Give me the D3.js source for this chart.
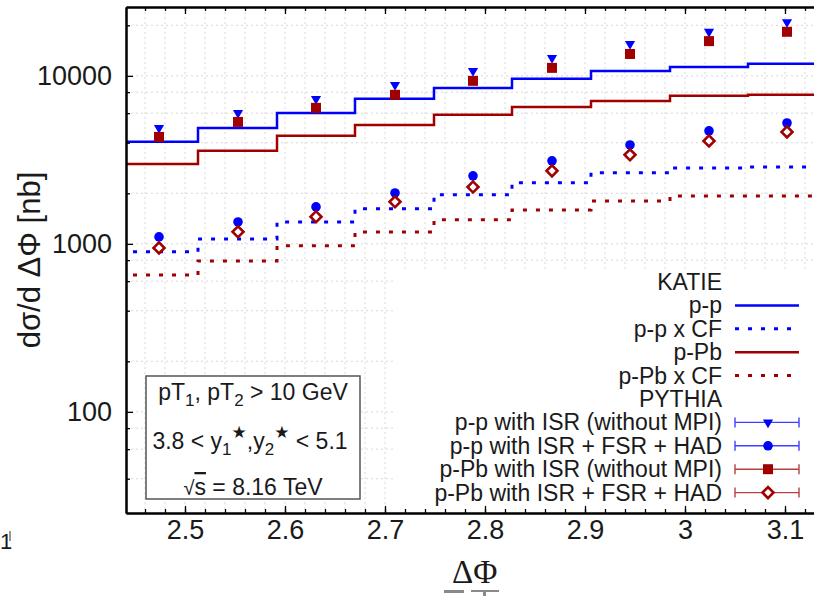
<html>
<head>
<meta charset="utf-8">
<script src="https://d3js.org/d3.v7.min.js"></script>
<style>
body { margin: 0; background: #fff; }
text { font-family: "Liberation Sans", Arial, sans-serif; fill: #1a1a1a; }
</style>
</head>
<body>
<div id="chart"></div>
<script>
// bins in delta phi (width pi/40)
const binEdges = [2.435, 2.513, 2.592, 2.670, 2.749, 2.827, 2.906, 2.985, 3.063, 3.142];
const binCenters = [2.474, 2.553, 2.631, 2.710, 2.788, 2.867, 2.945, 3.024, 3.102];

// KATIE histograms [nb]
const katiePP     = [4050, 4900, 6020, 7300, 8480, 9600, 10700, 11300, 11800];
const katiePPcf   = [896, 1070, 1350, 1616, 1960, 2310, 2650, 2830, 2870];
const katiePPb    = [2990, 3580, 4400, 5100, 5860, 6530, 7090, 7610, 7710];
const katiePPbcf  = [653, 792, 973, 1178, 1390, 1593, 1800, 1930, 1930];

// PYTHIA points [nb]
const pythiaPPisr   = [4900, 6020, 7300, 8840, 10700, 12800, 15500, 18300, 20900];
const pythiaPPfull  = [1100, 1350, 1660, 2010, 2540, 3120, 3880, 4710, 5240];
const pythiaPPbisr  = [4330, 5320, 6450, 7710, 9340, 11160, 13500, 16100, 18300];
const pythiaPPbfull = [946, 1180, 1450, 1780, 2180, 2720, 3390, 4100, 4640];

const xTicks = [2.5, 2.6, 2.7, 2.8, 2.9, 3, 3.1];
const yTicks = [100, 1000, 10000];
const yMinor = [40, 60, 80, 200, 400, 600, 800, 2000, 4000, 6000, 8000, 20000];

const legendLabels = ["KATIE", "p-p", "p-p x CF", "p-Pb", "p-Pb x CF", "PYTHIA",
  "p-p with ISR (without MPI)", "p-p with ISR + FSR + HAD",
  "p-Pb with ISR (without MPI)", "p-Pb with ISR + FSR + HAD"];

const w = 814;
const h = 596;
const pLeft = 126, pRight = 826, pTop = 7, pBottom = 513;
const blue = "#0000ff";
const red = "#a00000";

const svg = d3.select("#chart")
  .append("svg")
  .attr("width", w)
  .attr("height", h);

const xscale = d3.scaleLinear().domain([2.441, 3.141]).range([pLeft, pRight]);
const yscale = d3.scaleLog().domain([25, 25700]).range([pBottom, pTop]);

svg.append("clipPath").attr("id", "plotclip")
  .append("rect").attr("x", pLeft).attr("y", pTop)
  .attr("width", pRight - pLeft).attr("height", pBottom - pTop);

// grid
const grid = svg.append("g")
  .attr("stroke", "#d8d8d8")
  .attr("stroke-width", 1)
  .attr("stroke-dasharray", "2,3");
const xGrid = d3.range(2.46, 3.13, 0.02);
grid.selectAll(".gx").data(xGrid).enter().append("line")
  .attr("x1", d => xscale(d)).attr("x2", d => xscale(d))
  .attr("y1", pTop).attr("y2", pBottom);
grid.selectAll(".gy").data(yTicks.concat(yMinor)).enter().append("line")
  .attr("x1", pLeft).attr("x2", w)
  .attr("y1", d => yscale(d)).attr("y2", d => yscale(d));

// legend background hides grid
svg.append("rect")
  .attr("x", 395).attr("y", 270)
  .attr("width", 440).attr("height", pBottom - 270)
  .attr("fill", "#fff");

// KATIE step histograms
const plot = svg.append("g").attr("clip-path", "url(#plotclip)");
const step = d3.line()
  .x(d => xscale(d[0]))
  .y(d => yscale(d[1]))
  .curve(d3.curveStepAfter);

function stepPoints(vals) {
  const pts = vals.map((v, i) => [binEdges[i], v]);
  pts.push([binEdges[binEdges.length - 1], vals[vals.length - 1]]);
  return pts;
}

const histos = [
  {vals: katiePP, color: blue, dash: null},
  {vals: katiePPcf, color: blue, dash: "4,9"},
  {vals: katiePPb, color: red, dash: null},
  {vals: katiePPbcf, color: red, dash: "4,9"}
];
histos.forEach(s => {
  plot.append("path")
    .attr("d", step(stepPoints(s.vals)))
    .attr("fill", "none")
    .attr("stroke", s.color)
    .attr("stroke-width", s.dash ? 3 : 2.5)
    .attr("stroke-dasharray", s.dash);
});

// markers
function marker(g, type, cx, cy, color) {
  if (type === "tri") {
    g.append("path")
      .attr("d", d3.symbol(d3.symbolTriangle, 45)())
      .attr("transform", `translate(${cx},${cy}) rotate(180)`)
      .attr("fill", color);
  } else if (type === "circle") {
    g.append("circle").attr("cx", cx).attr("cy", cy).attr("r", 4.8).attr("fill", color);
  } else if (type === "square") {
    g.append("rect").attr("x", cx - 5).attr("y", cy - 5)
      .attr("width", 10).attr("height", 10).attr("fill", color);
  } else {
    g.append("path")
      .attr("d", d3.symbol(d3.symbolSquare, 60)())
      .attr("transform", `translate(${cx},${cy}) rotate(45)`)
      .attr("fill", "#fff").attr("stroke", color).attr("stroke-width", 2.6);
  }
}

const points = [
  {vals: pythiaPPisr, type: "tri", color: blue},
  {vals: pythiaPPfull, type: "circle", color: blue},
  {vals: pythiaPPbisr, type: "square", color: red},
  {vals: pythiaPPbfull, type: "diamond", color: red}
];
points.forEach(s => {
  s.vals.forEach((v, i) => marker(plot, s.type, xscale(binCenters[i]), yscale(v), s.color));
});

// axes
const Xaxis = d3.axisBottom(xscale).tickValues(xTicks).tickSize(-7).tickSizeOuter(0)
  .tickPadding(7).tickFormat(d3.format("~g"));
const XaxisMinor = d3.axisBottom(xscale).tickValues(xGrid).tickSize(-4).tickSizeOuter(0).tickFormat("");
const Xtop = d3.axisTop(xscale).tickValues(xTicks).tickSize(-7).tickSizeOuter(0).tickFormat("");
const XtopMinor = d3.axisTop(xscale).tickValues(xGrid).tickSize(-4).tickSizeOuter(0).tickFormat("");
const Yaxis = d3.axisLeft(yscale).tickValues(yTicks).tickSize(-7).tickSizeOuter(0)
  .tickPadding(14).tickFormat(d3.format("d"));
const YaxisMinor = d3.axisLeft(yscale).tickValues(yMinor).tickSize(-4).tickSizeOuter(0).tickFormat("");

function axisG(ax, tx, ty) {
  const g = svg.append("g").attr("transform", `translate(${tx},${ty})`).call(ax);
  g.select(".domain").attr("stroke", "#000").attr("stroke-width", 2);
  g.selectAll(".tick line").attr("stroke", "#000").attr("stroke-width", 1.3);
  g.selectAll("text").attr("font-size", 27).attr("fill", "#1a1a1a")
    .attr("font-family", "Liberation Sans, Arial, sans-serif");
  return g;
}
axisG(XaxisMinor, 0, pBottom);
axisG(Xaxis, 0, pBottom);
axisG(XtopMinor, 0, pTop);
axisG(Xtop, 0, pTop);
axisG(YaxisMinor, pLeft, 0);
axisG(Yaxis, pLeft, 0);

// axis titles
svg.append("text")
  .attr("transform", "translate(40,260) rotate(-90)")
  .attr("text-anchor", "middle")
  .attr("font-size", 31)
  .text("dσ/d ΔΦ [nb]");

svg.append("text")
  .attr("x", 452).attr("y", 583)
  .style("font-family", "Liberation Serif, Times New Roman, serif")
  .attr("font-size", 33)
  .text("ΔΦ");
// cropped ghost of the label at the bottom edge
const ghost = svg.append("g").attr("fill", "#8a8a8a");
ghost.append("rect").attr("x", 444).attr("y", 590).attr("width", 20).attr("height", 3);
ghost.append("rect").attr("x", 471).attr("y", 590).attr("width", 28).attr("height", 2);
ghost.append("rect").attr("x", 483).attr("y", 590).attr("width", 3).attr("height", 6);

// cropped leftover at bottom-left
svg.append("text").attr("x", 0).attr("y", 549).attr("font-size", 22).text("1");
svg.append("line").attr("x1", 10).attr("x2", 10).attr("y1", 531).attr("y2", 541)
  .attr("stroke", "#333").attr("stroke-width", 1);

// cuts box
svg.append("rect")
  .attr("x", 146).attr("y", 376).attr("width", 214).attr("height", 123)
  .attr("fill", "#fff").attr("stroke", "#555").attr("stroke-width", 1.5);

const t1 = svg.append("text").attr("x", 253).attr("y", 400)
  .attr("text-anchor", "middle").attr("font-size", 23);
t1.append("tspan").text("pT");
t1.append("tspan").attr("font-size", 17).attr("dy", 6).text("1");
t1.append("tspan").attr("dy", -6).text(", pT");
t1.append("tspan").attr("font-size", 17).attr("dy", 6).text("2");
t1.append("tspan").attr("dy", -6).text(" > 10 GeV");

const t2 = svg.append("text").attr("x", 250).attr("y", 449)
  .attr("text-anchor", "middle").attr("font-size", 23);
t2.append("tspan").text("3.8 < y");
t2.append("tspan").attr("font-size", 17).attr("dy", 6).text("1");
t2.append("tspan").attr("font-size", 17).attr("dy", -17).style("font-family", "DejaVu Sans").text("★");
t2.append("tspan").attr("dy", 11).text(",y");
t2.append("tspan").attr("font-size", 17).attr("dy", 6).text("2");
t2.append("tspan").attr("font-size", 17).attr("dy", -17).style("font-family", "DejaVu Sans").text("★");
t2.append("tspan").attr("dy", 11).text(" < 5.1");

const t3 = svg.append("text").attr("x", 253).attr("y", 495)
  .attr("text-anchor", "middle").attr("font-size", 23);
t3.append("tspan").attr("font-size", 20).text("√");
t3.append("tspan").style("text-decoration", "overline").text("s");
t3.append("tspan").text(" = 8.16 TeV");

// legend
const legend = svg.append("g");
const rowY = i => 282 + i * 23.4;
const legendStyle = [
  null,
  {kind: "line", color: blue, dash: null},
  {kind: "line", color: blue, dash: "4,9"},
  {kind: "line", color: red, dash: null},
  {kind: "line", color: red, dash: "4,9"},
  null,
  {kind: "pt", color: blue, type: "tri"},
  {kind: "pt", color: blue, type: "circle"},
  {kind: "pt", color: red, type: "square"},
  {kind: "pt", color: red, type: "diamond"}
];
legendLabels.forEach((lab, i) => {
  const yy = rowY(i);
  legend.append("text")
    .attr("x", 722).attr("y", yy + 8)
    .attr("text-anchor", "end")
    .attr("font-size", 23)
    .text(lab);
  const st = legendStyle[i];
  if (!st) return;
  if (st.kind === "line") {
    legend.append("line")
      .attr("x1", 735).attr("x2", 799).attr("y1", yy).attr("y2", yy)
      .attr("stroke", st.color)
      .attr("stroke-width", st.dash ? 3 : 2.5)
      .attr("stroke-dasharray", st.dash);
  } else {
    const eb = legend.append("g").attr("stroke", st.color).attr("stroke-width", 1.4).attr("opacity", 0.75);
    eb.append("line").attr("x1", 735).attr("x2", 799).attr("y1", yy).attr("y2", yy);
    eb.append("line").attr("x1", 735).attr("x2", 735).attr("y1", yy - 5).attr("y2", yy + 5);
    eb.append("line").attr("x1", 799).attr("x2", 799).attr("y1", yy - 5).attr("y2", yy + 5);
    marker(legend, st.type, 768, yy, st.color);
  }
});
</script>
</body>
</html>
